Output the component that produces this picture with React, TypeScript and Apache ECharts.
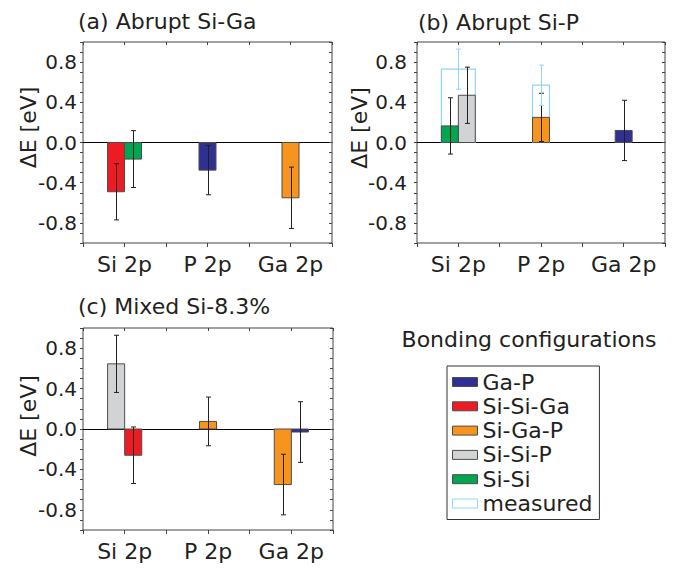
import React, { useEffect, useRef } from "react";
import * as echarts from "echarts";

const FONT = "DejaVu Sans";
const TEXT = "#231f20";
const FRAME = "#444444";

const categories = ["Si 2p", "P 2p", "Ga 2p"];
const bondTypes = ["Ga-P", "Si-Si-Ga", "Si-Ga-P", "Si-Si-P", "Si-Si"];
const measuredName = "measured";
const yTickValues = [-0.8, -0.4, 0, 0.4, 0.8];

// (a) Abrupt Si-Ga
const panelABonds = [["Si-Si-Ga", "Si-Si"], ["Ga-P"], ["Si-Ga-P"]];
const panelAValues = [[-0.49, -0.165], [-0.275], [-0.55]];
const panelAErrors = [[0.28, 0.283], [0.245], [0.305]];

// (b) Abrupt Si-P
const panelBBonds = [["Si-Si", "Si-Si-P"], ["Si-Ga-P"], ["Ga-P"]];
const panelBValues = [[0.165, 0.47], [0.25], [0.12]];
const panelBErrors = [[0.28, 0.28], [0.24], [0.3]];
const panelBMeasured = [0.73, 0.57, null];
const panelBMeasuredErrors = [0.2, 0.2, null];

// (c) Mixed Si-8.3%
const panelCBonds = [["Si-Si-P", "Si-Si-Ga"], ["Si-Ga-P"], ["Si-Ga-P", "Ga-P"]];
const panelCValues = [[0.645, -0.26], [0.075], [-0.55, -0.03]];
const panelCErrors = [[0.283, 0.28], [0.241], [0.3, 0.3]];

const bondColors: Record<string, string> = {
  "Ga-P": "#2e3192",
  "Si-Si-Ga": "#ed1c24",
  "Si-Ga-P": "#f7941d",
  "Si-Si-P": "#d1d3d4",
  "Si-Si": "#00a651",
};
const measuredColor = "#8fd6f5";
const barBorder = "#4d4d4d";
const errColor = "#231f20";
const BAR_FRAC = 0.205;

function geom(api: any) {
  const cat = api.value(0);
  const slot = api.value(3);
  const count = api.value(4);
  const base = api.coord([cat, 0]);
  const bw = api.size([1, 0])[0] * BAR_FRAC;
  const left = base[0] - (count * bw) / 2 + slot * bw;
  return { cat, slot, count, base, bw, left };
}

function barRender(color: string) {
  return (params: any, api: any) => {
    const g = geom(api);
    const top = api.coord([g.cat, api.value(1)]);
    const y0 = Math.min(top[1], g.base[1]);
    return {
      type: "rect",
      shape: { x: g.left, y: y0, width: g.bw, height: Math.abs(top[1] - g.base[1]) },
      style: { fill: color, stroke: barBorder, lineWidth: 1 },
    };
  };
}

function measuredRender(params: any, api: any) {
  const cat = api.value(0);
  const count = api.value(4);
  const base = api.coord([cat, 0]);
  const bw = api.size([1, 0])[0] * BAR_FRAC;
  const top = api.coord([cat, api.value(1)]);
  return {
    type: "rect",
    shape: { x: base[0] - (count * bw) / 2, y: top[1], width: count * bw, height: base[1] - top[1] },
    style: { fill: "none", stroke: measuredColor, lineWidth: 1.2 },
  };
}

function errRender(params: any, api: any) {
  const g = geom(api);
  const isMeasured = api.value(5) === 1;
  const cx = isMeasured ? g.base[0] : g.left + g.bw / 2;
  const v = api.value(1);
  const e = api.value(2);
  const hi = api.coord([g.cat, v + e])[1];
  const lo = api.coord([g.cat, v - e])[1];
  const x = Math.round(cx) + 0.5;
  const cap = 2.5;
  const style = { stroke: isMeasured ? measuredColor : errColor, lineWidth: 1 };
  return {
    type: "group",
    children: [
      { type: "line", shape: { x1: x, y1: hi, x2: x, y2: lo }, style },
      { type: "line", shape: { x1: x - cap, y1: hi, x2: x + cap, y2: hi }, style },
      { type: "line", shape: { x1: x - cap, y1: lo, x2: x + cap, y2: lo }, style },
    ],
  };
}

const tickLine = { color: FRAME, width: 1 };

function yLabelFormatter(v: number) {
  const val = Math.abs(v) < 1e-9 ? 0 : v;
  return yTickValues.some((t) => Math.abs(t - val) < 1e-6) ? val.toFixed(1) : "";
}

function buildPanel(
  g: number,
  bonds: string[][],
  values: number[][],
  errors: number[][],
  labelMargin: number,
  measured?: (number | null)[],
  measuredErr?: (number | null)[]
) {
  const xBase = g * 5;
  const yBase = g * 2;
  const xAxes = [
    {
      gridIndex: g, type: "category", data: categories, position: "bottom",
      axisLine: { show: false, onZero: false },
      axisTick: { show: true, alignWithLabel: true, length: 4, lineStyle: tickLine },
      axisLabel: { interval: 0, hideOverlap: false, fontSize: 22, fontFamily: FONT, color: TEXT, margin: 10 },
      splitLine: { show: false },
    },
    {
      gridIndex: g, type: "category", data: categories, position: "bottom",
      axisLine: { show: false, onZero: false },
      axisTick: { show: true, interval: 0, alignWithLabel: false, length: 4, lineStyle: tickLine },
      axisLabel: { show: false }, splitLine: { show: false },
    },
    {
      gridIndex: g, type: "category", data: categories, position: "top",
      axisLine: { show: false, onZero: false },
      axisTick: { show: true, interval: 0, inside: true, alignWithLabel: true, length: 3, lineStyle: tickLine },
      axisLabel: { show: false }, splitLine: { show: false },
    },
    {
      gridIndex: g, type: "category", data: categories, position: "top",
      axisLine: { show: false, onZero: false },
      axisTick: { show: true, interval: 0, inside: true, alignWithLabel: false, length: 3, lineStyle: tickLine },
      axisLabel: { show: false }, splitLine: { show: false },
    },
    {
      gridIndex: g, type: "category", data: categories, position: "bottom",
      axisLine: { show: true, onZero: true, lineStyle: { color: "#000", width: 1 } },
      axisTick: { show: false }, axisLabel: { show: false }, splitLine: { show: false },
    },
  ];
  const yCommon = {
    gridIndex: g, type: "value", min: -1, max: 1, interval: 0.2,
    axisLine: { show: false }, splitLine: { show: false },
  };
  const yAxes = [
    {
      ...yCommon, position: "left",
      axisTick: { show: true, length: 3, lineStyle: tickLine },
      minorTick: { show: true, splitNumber: 2, length: 3, lineStyle: tickLine },
      axisLabel: { formatter: yLabelFormatter, fontSize: 20, fontFamily: FONT, color: TEXT, margin: labelMargin },
    },
    {
      ...yCommon, position: "right",
      axisTick: { show: true, inside: true, length: 3, lineStyle: tickLine },
      minorTick: { show: true, splitNumber: 2, length: 3, lineStyle: tickLine },
      axisLabel: { show: false },
    },
  ];

  const series: any[] = [];
  bondTypes.forEach((bt) => {
    const data: number[][] = [];
    bonds.forEach((list, c) => {
      list.forEach((b, s) => {
        if (b === bt) data.push([c, values[c][s], errors[c][s], s, list.length]);
      });
    });
    series.push({
      type: "custom", name: bt, xAxisIndex: xBase, yAxisIndex: yBase, z: 3,
      encode: { x: 0, y: 1 },
      itemStyle: { color: bondColors[bt], borderColor: barBorder, borderWidth: 1 },
      renderItem: barRender(bondColors[bt]),
      data,
    });
  });

  const errData: number[][] = [];
  bonds.forEach((list, c) => {
    list.forEach((b, s) => errData.push([c, values[c][s], errors[c][s], s, list.length, 0]));
  });

  if (measured && measuredErr) {
    const mData: number[][] = [];
    measured.forEach((m, c) => {
      if (m != null) {
        mData.push([c, m, measuredErr[c] as number, 0, bonds[c].length]);
        errData.push([c, m, measuredErr[c] as number, 0, bonds[c].length, 1]);
      }
    });
    series.push({
      type: "custom", name: measuredName, xAxisIndex: xBase, yAxisIndex: yBase, z: 2,
      encode: { x: 0, y: 1 },
      itemStyle: { color: "#fff", borderColor: measuredColor, borderWidth: 1 },
      renderItem: measuredRender,
      data: mData,
    });
  }

  series.push({
    type: "custom", name: "error", xAxisIndex: xBase, yAxisIndex: yBase, z: 4,
    encode: { x: 0, y: 1 },
    renderItem: errRender,
    data: errData,
  });

  return { xAxes, yAxes, series };
}

export default function App() {
  const ref = useRef<HTMLDivElement>(null);
  useEffect(() => {
    if (!ref.current) return;
    const chart = echarts.init(ref.current, null, { renderer: "svg" });
    const pa = buildPanel(0, panelABonds, panelAValues, panelAErrors, 6);
    const pb = buildPanel(1, panelBBonds, panelBValues, panelBErrors, 10, panelBMeasured, panelBMeasuredErrors);
    const pc = buildPanel(2, panelCBonds, panelCValues, panelCErrors, 6);

    const gridStyle = { show: true, borderColor: FRAME, borderWidth: 1, backgroundColor: "transparent", containLabel: false };
    const titleStyle = { fill: TEXT, fontSize: 22, fontFamily: FONT, textVerticalAlign: "middle" };

    const legendItems = [
      ...bondTypes.map((b) => ({
        name: b,
        itemStyle: { color: bondColors[b], borderColor: barBorder, borderWidth: 1 },
      })),
      { name: measuredName, itemStyle: { color: "#ffffff", borderColor: measuredColor, borderWidth: 1 } },
    ];

    chart.setOption({
      animation: false,
      backgroundColor: "#ffffff",
      grid: [
        { ...gridStyle, left: 83, top: 42, width: 249, height: 201 },
        { ...gridStyle, left: 417, top: 42, width: 248, height: 201 },
        { ...gridStyle, left: 83, top: 328, width: 250, height: 202 },
      ],
      xAxis: [...pa.xAxes, ...pb.xAxes, ...pc.xAxes],
      yAxis: [...pa.yAxes, ...pb.yAxes, ...pc.yAxes],
      series: [...pa.series, ...pb.series, ...pc.series],
      legend: {
        data: legendItems,
        orient: "vertical",
        left: 447,
        top: 366,
        icon: "rect",
        itemWidth: 25,
        itemHeight: 9,
        itemGap: 2.3,
        padding: [5, 7, 5, 5],
        borderColor: "#333333",
        borderWidth: 1,
        selectedMode: false,
        textStyle: { fontSize: 22, fontFamily: FONT, color: TEXT, padding: 0 },
      },
      graphic: [
        { type: "text", x: 78, y: 21.5, style: { ...titleStyle, text: "(a) Abrupt Si-Ga", textAlign: "left" } },
        { type: "text", x: 418, y: 22, style: { ...titleStyle, text: "(b) Abrupt Si-P", textAlign: "left" } },
        { type: "text", x: 78, y: 306, style: { ...titleStyle, text: "(c) Mixed Si-8.3%", textAlign: "left" } },
        { type: "text", x: 529, y: 339, style: { ...titleStyle, text: "Bonding configurations", textAlign: "center" } },
        { type: "text", x: 28, y: 127.5, rotation: Math.PI / 2, style: { ...titleStyle, text: "ΔE [eV]", textAlign: "center" } },
        { type: "text", x: 359, y: 128, rotation: Math.PI / 2, style: { ...titleStyle, text: "ΔE [eV]", textAlign: "center" } },
        { type: "text", x: 28.4, y: 416, rotation: Math.PI / 2, style: { ...titleStyle, text: "ΔE [eV]", textAlign: "center" } },
      ],
    });
    return () => chart.dispose();
  }, []);
  return (
    <div
      ref={ref}
      style={{ position: "absolute", left: 0, top: 0, width: 674, height: 569 }}
    />
  );
}
